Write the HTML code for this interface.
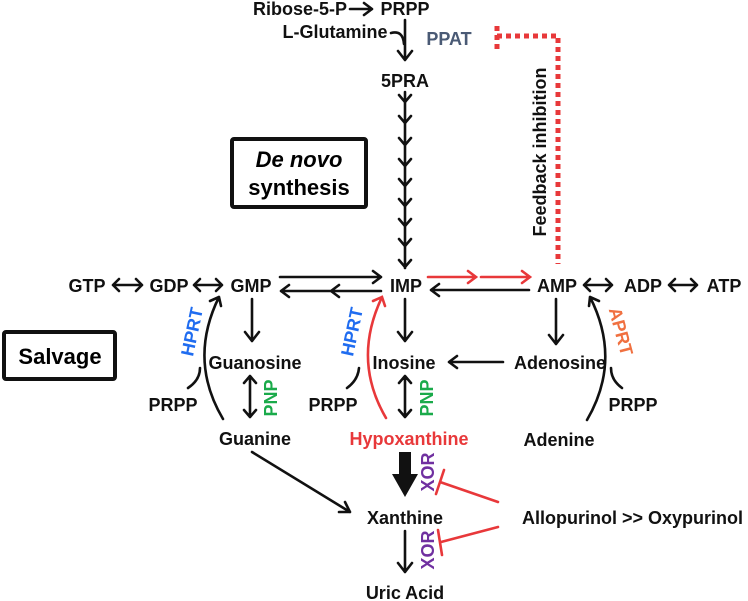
<!DOCTYPE html>
<html><head><meta charset="utf-8"><style>
html,body{margin:0;padding:0;background:#fff;}
svg{display:block;}
text{font-family:"Liberation Sans",Arial,sans-serif;font-weight:bold;font-size:18px;}
</style></head><body>
<svg width="748" height="601" viewBox="0 0 748 601" xmlns="http://www.w3.org/2000/svg">
<g fill="none" stroke="#111" stroke-width="2.6" stroke-linecap="round" stroke-linejoin="round">
<path d="M350 9 H372 M364 3 L372 9 L364 15"/>
<path d="M405 20 V60 M398 51 L405 60 L412 51"/>
<path d="M391 33 Q403 30 404 44"/>
<path d="M405 92 V268"/>
<path d="M399 95 L405 102 L411 95 M399 116 L405 123 L411 116 M399 138 L405 145 L411 138 M399 159 L405 166 L411 159 M399 179 L405 186 L411 179 M399 199 L405 206 L411 199 M399 219 L405 226 L411 219 M399 239 L405 246 L411 239 M399 260 L405 267 L411 260"/>
<path d="M113 285 H142 M119 279 L113 285 L119 291 M136 279 L142 285 L136 291"/>
<path d="M194 285 H222 M200 279 L194 285 L200 291 M216 279 L222 285 L216 291"/>
<path d="M584 285 H612 M590 279 L584 285 L590 291 M606 279 L612 285 L606 291"/>
<path d="M669 285 H697 M675 279 L669 285 L675 291 M691 279 L697 285 L691 291"/>
<path d="M280 277 H381 M373 271 L381 277 L373 283"/>
<path d="M381 291 H281 M289 285 L281 291 L289 297 M339 285 L331 291 L339 297"/>
<path d="M529 290 H431 M439 284 L431 290 L439 296"/>
<path d="M252 299 V341 M245 332 L252 341 L259 332"/>
<path d="M405 299 V341 M398 332 L405 341 L412 332"/>
<path d="M556 299 V344 M549 335 L556 344 L563 335"/>
<path d="M503 362 H449 M457 356 L449 362 L457 368"/>
<path d="M250 376 V417 M244 383 L250 376 L256 383 M244 410 L250 417 L256 410"/>
<path d="M405 376 V417 M399 383 L405 376 L411 383 M399 410 L405 417 L411 410"/>
<path d="M223 419 Q188 360 219 297 M210 301 L219 297 L221 306"/>
<path d="M188 388 Q200 380 200 368"/>
<path d="M347 388 Q358 380 359 368"/>
<path d="M587 420 Q622 360 590 297 M599 301 L590 297 L589 306"/>
<path d="M622 388 Q611 380 611 368"/>
<path d="M252 452 L350 512 M339 512 L350 512 L345 502"/>
<path d="M405 531 V572 M398 563 L405 572 L412 563"/>
</g>
<path d="M399 452 H411 V474 H418 L405 497 L392 474 H399 Z" fill="#111"/>
<g fill="none" stroke="#e8383a" stroke-width="2.6" stroke-linecap="round">
<path d="M428 277 H476 M468 271 L476 277 L468 283"/>
<path d="M481 277 H530 M522 271 L530 277 L522 283"/>
<path d="M386 418 Q352 360 382 297 M373 301 L382 297 L385 306"/>
<path d="M498 502 L440 482 M444 470 L436 494"/>
<path d="M498 527 L441 542 M438 530 L442 555"/>
</g>
<path d="M497 26 V50 M497 36 H558 V264" fill="none" stroke="#e8383a" stroke-width="5" stroke-dasharray="5 4"/>
<rect x="232" y="139" width="134" height="68" fill="none" stroke="#111" stroke-width="4" rx="2"/>
<text x="299" y="167" text-anchor="middle" style="font-size:22px;font-style:italic">De novo</text>
<text x="299" y="195" text-anchor="middle" style="font-size:22px">synthesis</text>
<rect x="4" y="332" width="111" height="47" fill="none" stroke="#111" stroke-width="4" rx="2"/>
<text x="60" y="364" text-anchor="middle" style="font-size:22px">Salvage</text>
<g text-anchor="middle" fill="#111">
<text x="300" y="15">Ribose-5-P</text>
<text x="405" y="15">PRPP</text>
<text x="335" y="38">L-Glutamine</text>
<text x="405" y="87">5PRA</text>
<text x="87" y="292">GTP</text>
<text x="169" y="292">GDP</text>
<text x="251" y="292">GMP</text>
<text x="406" y="292">IMP</text>
<text x="557" y="292">AMP</text>
<text x="643" y="292">ADP</text>
<text x="724" y="292">ATP</text>
<text x="255" y="369">Guanosine</text>
<text x="404" y="369">Inosine</text>
<text x="560" y="369">Adenosine</text>
<text x="173" y="411">PRPP</text>
<text x="333" y="411">PRPP</text>
<text x="633" y="411">PRPP</text>
<text x="255" y="445">Guanine</text>
<text x="409" y="445" fill="#e8383a">Hypoxanthine</text>
<text x="559" y="446">Adenine</text>
<text x="405" y="524">Xanthine</text>
<text x="405" y="599">Uric Acid</text>
</g>
<text x="522" y="524" fill="#111">Allopurinol &gt;&gt; Oxypurinol</text>
<text x="449" y="45" text-anchor="middle" fill="#4a5a75">PPAT</text>
<text transform="translate(546 152) rotate(-90)" text-anchor="middle" fill="#111">Feedback inhibition</text>
<text transform="translate(198 333) rotate(-78)" text-anchor="middle" fill="#1f6cf0">HPRT</text>
<text transform="translate(358 333) rotate(-78)" text-anchor="middle" fill="#1f6cf0">HPRT</text>
<text transform="translate(615 333) rotate(75)" text-anchor="middle" fill="#f07040">APRT</text>
<text transform="translate(277 398) rotate(-90)" text-anchor="middle" fill="#1aaa4a">PNP</text>
<text transform="translate(433 398) rotate(-90)" text-anchor="middle" fill="#1aaa4a">PNP</text>
<text transform="translate(434 472) rotate(-90)" text-anchor="middle" fill="#7030a0">XOR</text>
<text transform="translate(434 550) rotate(-90)" text-anchor="middle" fill="#7030a0">XOR</text>
</svg>
</body></html>
